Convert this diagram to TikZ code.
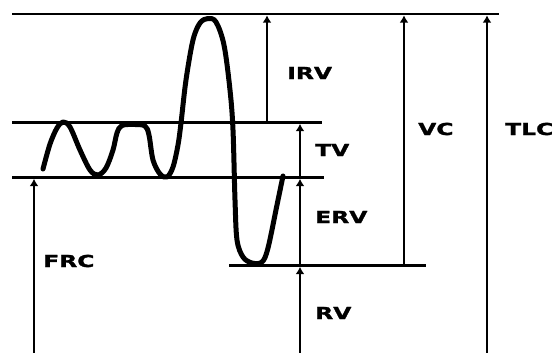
\documentclass[tikz,border=0pt]{standalone}
\usepackage{fontspec}
\usetikzlibrary{arrows.meta}
\newfontfamily\labfont[FakeStretch=1.42,BoldFeatures={FakeBold=1.6}]{DejaVu Sans}
\tikzset{
  lvl/.style={line width=2.4pt},
  vol/.style={line width=2.2pt,-{Latex[length=7.5pt,width=9pt]}},
  wave/.style={line width=5pt,line cap=round,line join=round},
  lab/.style={inner sep=0pt,anchor=west,font=\labfont\bfseries\fontsize{16.5}{18}\selectfont}
}
\begin{document}
\begin{tikzpicture}[x=1pt,y=-1pt]
\useasboundingbox (0,0) rectangle (558,353);
% level lines
\coordinate (topL) at (12,14);   \coordinate (topR) at (499,14);
\coordinate (tvL) at (12,122.5); \coordinate (tvR) at (322,122.5);
\coordinate (frL) at (12,177.5); \coordinate (frR) at (324,177.5);
\coordinate (rvL) at (229,265.5);\coordinate (rvR) at (426,265.5);
\draw[lvl] (topL) -- (topR);
\draw[lvl] (tvL) -- (tvR);
\draw[lvl] (frL) -- (frR);
\draw[lvl] (rvL) -- (rvR);
% arrow endpoints
\coordinate (frcB) at (34,353);   \coordinate (frcT) at (34,178.7);
\coordinate (irvB) at (267,122.5);\coordinate (irvT) at (267,15.2);
\coordinate (tvB) at (300,177.5); \coordinate (tvT) at (300,123.7);
\coordinate (erB) at (300,265.5); \coordinate (erT) at (300,178.7);
\coordinate (rvB) at (300,353);   \coordinate (rvT) at (300,266.7);
\coordinate (vcB) at (404,265.5); \coordinate (vcT) at (404,15.2);
\coordinate (tlB) at (487,353);   \coordinate (tlT) at (487,15.2);
\draw[vol] (frcB) -- (frcT);
\draw[vol] (irvB) -- (irvT);
\draw[vol] (tvB) -- (tvT);
\draw[vol] (erB) -- (erT);
\draw[vol] (rvB) -- (rvT);
\draw[vol] (vcB) -- (vcT);
\draw[vol] (tlB) -- (tlT);
% spirogram trace
\draw[wave] plot[smooth,tension=0.55] coordinates {
(43,169) (50,144) (57,128) (63,122) (70,127) (80,150) (90,170) (98,175)
(106,168) (113,150) (117,133) (122,125.5) (135,124.5) (145,126) (149,135)
(153,160) (160,174) (167,177) (173,167) (178,145) (181,123) (186,80)
(193,40) (200,23) (208,18.5) (216,22) (224,45) (230,90) (233,130)
(235,200) (237,240) (243,257) (252,263) (262,262) (268,248) (277,205) (283,176)};
% labels
\node[lab] (irv) at (287,73) {IRV};
\node[lab] (tv)  at (315,150) {TV};
\node[lab] (erv) at (315,217) {ERV};
\node[lab] (rv)  at (315,313) {RV};
\node[lab] (vc)  at (418,129) {VC};
\node[lab] (tlc) at (505,129) {TLC};
\node[lab] (frc) at (43,261) {FRC};
\end{tikzpicture}
\end{document}
